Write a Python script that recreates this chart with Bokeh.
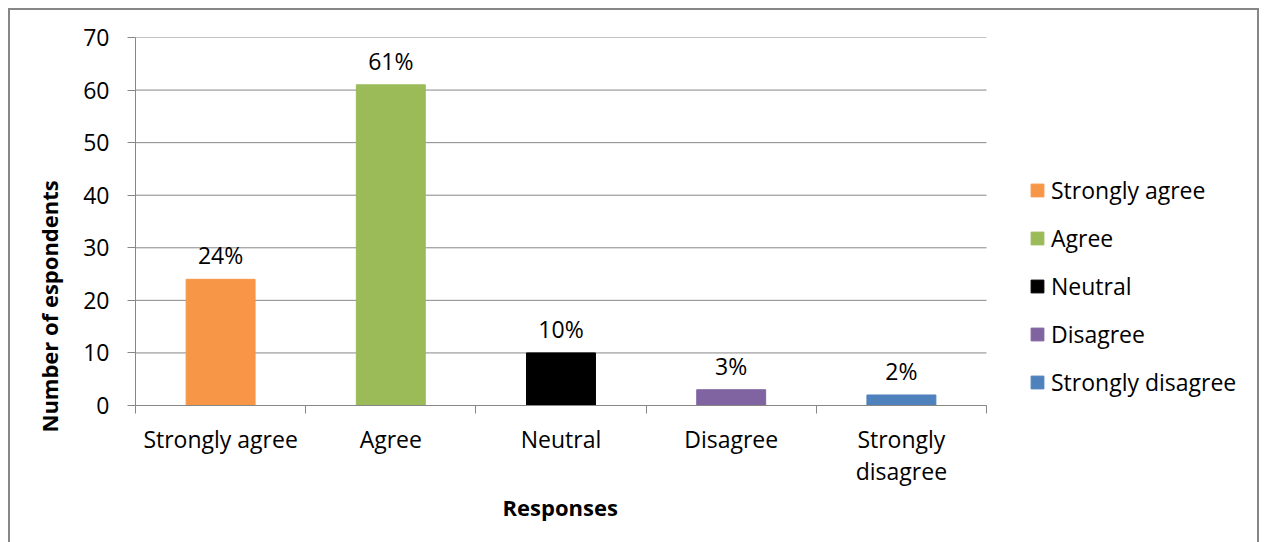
from bokeh.plotting import figure
from bokeh.models import ColumnDataSource, FixedTicker, Title, Legend, LegendItem
from bokeh.embed import file_html
from bokeh.resources import INLINE

categories = ["Strongly agree", "Agree", "Neutral", "Disagree", "Strongly disagree"]
tick_labels = ["Strongly agree", "Agree", "Neutral", "Disagree", "Strongly\ndisagree"]
counts = [24, 61, 10, 3, 2]
pct_labels = ["24%", "61%", "10%", "3%", "2%"]
colors = ["#F79646", "#9BBB59", "#000000", "#8064A2", "#4F81BD"]
y_ticks = [0, 10, 20, 30, 40, 50, 60, 70]

FONT = "Open Sans"
GRAY = "#878787"
FS = "23px"

n = len(categories)
xs = [i + 0.5 for i in range(n)]
src = ColumnDataSource(dict(x=xs, top=counts, cat=categories, color=colors, pct=pct_labels))

# frame spans the plot area plus the legend area on the right
PLOT_W, EXTRA_W = 851, 271
x_end = n * (PLOT_W + EXTRA_W) / PLOT_W

p = figure(width=1247, height=532, x_range=(0, x_end), y_range=(0, 70),
           output_backend="svg", toolbar_location=None,
           min_border_left=125, min_border_right=0, min_border_top=27, min_border_bottom=137)
p.margin = (10, 0, 0, 10)
p.styles = {"outline": "2px solid #878787"}
p.outline_line_color = None
p.background_fill_color = "white"
p.border_fill_color = "white"

# horizontal gridlines limited to the category area
p.xgrid.visible = False
p.ygrid.visible = False
p.segment(x0=[0] * len(y_ticks), x1=[n] * len(y_ticks), y0=y_ticks, y1=y_ticks,
          line_color=GRAY, line_width=1)

bars = p.vbar(x="x", top="top", width=0.405, color="color", source=src)
p.text(x="x", y="top", text="pct", source=src, y_offset=-24, text_align="center",
       text_baseline="alphabetic", text_font_size=FS, text_font={"value": FONT}, text_color="black")

# y axis
p.yaxis.ticker = FixedTicker(ticks=y_ticks)
p.yaxis.axis_line_color = GRAY
p.yaxis.major_tick_line_color = GRAY
p.yaxis.major_tick_out = 8
p.yaxis.major_tick_in = 0
p.yaxis.minor_tick_line_color = None
p.yaxis.major_label_standoff = 18
p.yaxis.major_label_text_font = FONT
p.yaxis.major_label_text_font_size = FS
p.yaxis.major_label_text_color = "black"

# x axis
p.xaxis.bounds = (0, n)
p.xaxis.ticker = FixedTicker(ticks=xs, minor_ticks=list(range(0, n + 1)))
p.xaxis.major_label_overrides = {x: t for x, t in zip(xs, tick_labels)}
p.xaxis.axis_line_color = GRAY
p.xaxis.major_tick_line_color = None
p.xaxis.major_tick_out = 0
p.xaxis.major_tick_in = 0
p.xaxis.minor_tick_line_color = GRAY
p.xaxis.minor_tick_out = 8
p.xaxis.minor_tick_in = 0
p.xaxis.major_label_standoff = 9
p.xaxis.major_label_text_font = FONT
p.xaxis.major_label_text_font_size = FS
p.xaxis.major_label_text_line_height = 1.0
p.xaxis.major_label_text_color = "black"

# x axis title (positioned over the category area only)
p.add_layout(Title(text="Responses", align="left", offset=367, vertical_align="top",
                   text_font=FONT, text_font_size="22px", text_font_style="bold",
                   text_color="black", standoff=4), "below")

# y axis title
p.add_layout(Title(text="Number of espondents", align="left", offset=-27,
                   text_font=FONT, text_font_size="22px", text_font_style="bold",
                   text_color="black", standoff=34), "left")

# legend
items = [LegendItem(label=c, renderers=[bars], index=i) for i, c in enumerate(categories)]
leg = Legend(items=items, location=(894, 7))
leg.padding = 0
leg.margin = 0
leg.spacing = 16
leg.glyph_width = 16
leg.glyph_height = 16
leg.label_height = 30
leg.label_standoff = 6
leg.label_text_font = FONT
leg.label_text_font_size = FS
leg.label_text_color = "black"
leg.border_line_color = None
leg.background_fill_alpha = 0
p.add_layout(leg, "center")

open("out.html", "w").write(file_html(p, INLINE))
